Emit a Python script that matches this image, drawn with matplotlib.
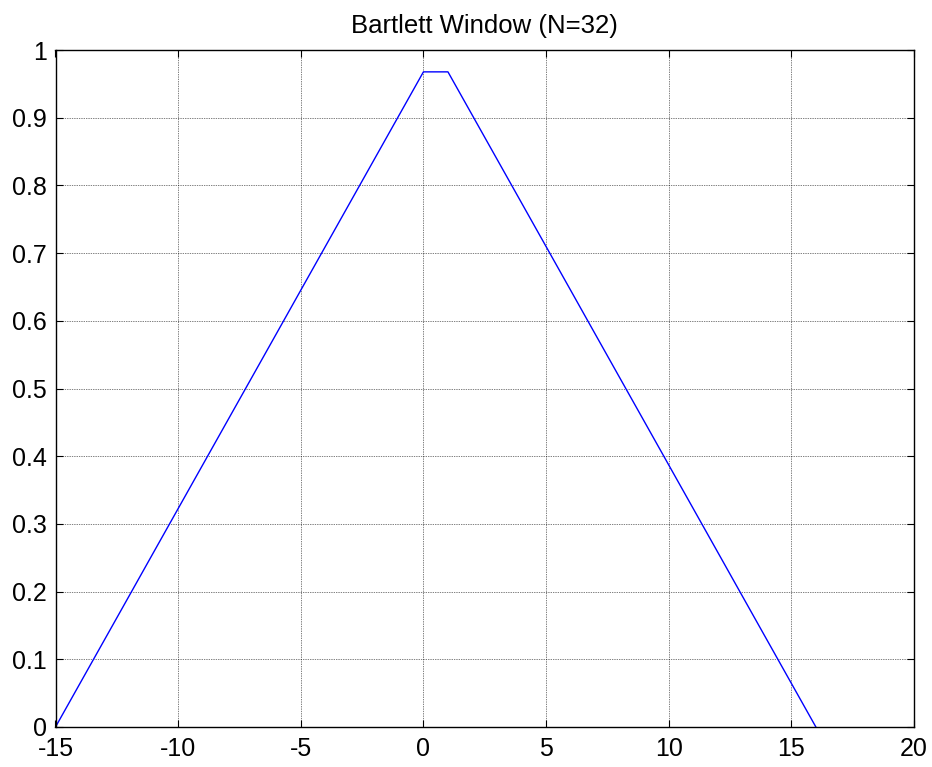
import matplotlib
matplotlib.use("Agg")
import matplotlib.pyplot as plt
from matplotlib.ticker import FixedLocator, FixedFormatter

plt.rcParams['font.family'] = ['Liberation Sans', 'DejaVu Sans']
plt.rcParams['axes.unicode_minus'] = False

# Sample index (centered) and Bartlett window values
n = [-15, -14, -13, -12, -11, -10, -9, -8, -7, -6, -5, -4, -3, -2, -1, 0,
     1, 2, 3, 4, 5, 6, 7, 8, 9, 10, 11, 12, 13, 14, 15, 16]
w = [0.0, 0.0645, 0.1290, 0.1935, 0.2581, 0.3226, 0.3871, 0.4516, 0.5161,
     0.5806, 0.6452, 0.7097, 0.7742, 0.8387, 0.9032, 0.9677,
     0.9677, 0.9032, 0.8387, 0.7742, 0.7097, 0.6452, 0.5806, 0.5161,
     0.4516, 0.3871, 0.3226, 0.2581, 0.1935, 0.1290, 0.0645, 0.0]

xticks = [-15, -10, -5, 0, 5, 10, 15, 20]
xtick_labels = ['-15', '-10', '-5', '0', '5', '10', '15', '20']
yticks = [0, 0.1, 0.2, 0.3, 0.4, 0.5, 0.6, 0.7, 0.8, 0.9, 1.0]
ytick_labels = ['0', '0.1', '0.2', '0.3', '0.4', '0.5', '0.6', '0.7', '0.8', '0.9', '1']
title = 'Bartlett Window (N=32)'

fig = plt.figure(figsize=(9.32, 7.67), dpi=100)
ax = fig.add_axes([55.5/932, 1 - 727/767, (914 - 55.5)/932, (727 - 50)/767])

ax.plot(n, w, color='#0000ff', lw=1.0)

ax.set_xlim(-15, 20)
ax.set_ylim(0, 1)
ax.xaxis.set_major_locator(FixedLocator(xticks))
ax.xaxis.set_major_formatter(FixedFormatter(xtick_labels))
ax.yaxis.set_major_locator(FixedLocator(yticks))
ax.yaxis.set_major_formatter(FixedFormatter(ytick_labels))

ax.grid(True, color='black', linestyle=(0, (1, 1.5)), lw=0.5)
ax.tick_params(direction='in', length=5, width=0.8, top=True, right=True,
               labelsize=18, pad=6)
ax.tick_params(axis='x', pad=7)
for s in ax.spines.values():
    s.set_linewidth(1.0)

ax.set_title(title, fontsize=18.5, pad=12)

fig.savefig('out.png', dpi=100)
